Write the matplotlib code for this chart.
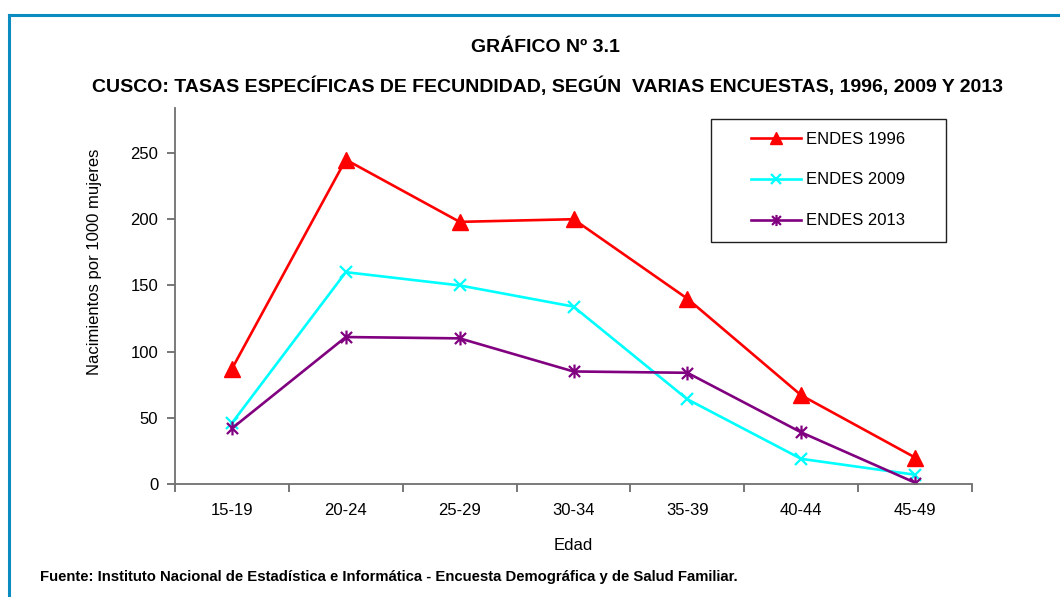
import matplotlib
matplotlib.use("Agg")
import matplotlib.pyplot as plt
from matplotlib import font_manager
from matplotlib.patches import Rectangle
from matplotlib.lines import Line2D
from matplotlib.path import Path

# ---- data ----
categories = ["15-19", "20-24", "25-29", "30-34", "35-39", "40-44", "45-49"]
endes_1996 = [87, 245, 198, 200, 140, 67, 20]
endes_2009 = [46, 160, 150, 134, 64, 19, 7]
endes_2013 = [42, 111, 110, 85, 84, 39, 1]
series_labels = ["ENDES 1996", "ENDES 2009", "ENDES 2013"]
y_ticks = [0, 50, 100, 150, 200, 250]

title1 = "GRÁFICO Nº 3.1"
title2 = "CUSCO: TASAS ESPECÍFICAS DE FECUNDIDAD, SEGÚN  VARIAS ENCUESTAS, 1996, 2009 Y 2013"
ylabel = "Nacimientos por 1000 mujeres"
xlabel = "Edad"
source = "Fuente: Instituto Nacional de Estadística e Informática - Encuesta Demográfica y de Salud Familiar."

names = {f.name for f in font_manager.fontManager.ttflist}
narrow = "Liberation Sans Narrow" if "Liberation Sans Narrow" in names else "Liberation Sans"
plt.rcParams["font.family"] = [narrow, "DejaVu Sans"]

W, H = 1060, 597
fig = plt.figure(figsize=(W / 100, H / 100), dpi=100)

def fx(px):
    return px / W

def fy(py):
    return 1 - py / H

# Excel-style asterisk marker: an x plus a vertical bar
star_marker = Path(
    [(-1, -1), (1, 1), (-1, 1), (1, -1), (0, -1.25), (0, 1.25)],
    [Path.MOVETO, Path.LINETO, Path.MOVETO, Path.LINETO, Path.MOVETO, Path.LINETO],
)

# outer blue border
fig.add_artist(Line2D([fx(9), fx(1070)], [fy(15), fy(15)], color="#0A8CC0", lw=2.2, transform=fig.transFigure))
fig.add_artist(Line2D([fx(9), fx(9)], [fy(15), fy(610)], color="#0A8CC0", lw=2.2, transform=fig.transFigure))

ax = fig.add_axes([fx(175), fy(484), fx(972) - fx(175), fy(108) - fy(484)])
x = list(range(len(categories)))

ax.plot(x, endes_1996, color="#FF0000", lw=1.9, marker="^", ms=11, label=series_labels[0])
ax.plot(x, endes_2009, color="#00FFFF", lw=1.9, marker="x", ms=9, mew=1.6, label=series_labels[1])
ax.plot(x, endes_2013, color="#800080", lw=1.9, marker=star_marker, ms=10, mew=1.6, label=series_labels[2])

ax.set_xlim(-0.5, len(categories) - 0.5)
ax.set_ylim(0, 284)
ax.set_yticks(y_ticks)
ax.set_xticks(x)
ax.set_xticklabels(categories)
ax.set_xticks([i - 0.5 for i in range(len(categories) + 1)], minor=True)
ax.tick_params(axis="x", which="major", length=0, pad=14, labelsize=12)
ax.tick_params(axis="x", which="minor", length=6, color="#606060", width=1.2)
ax.tick_params(axis="y", length=6, color="#606060", width=1.2, labelsize=12, pad=6)

for s in ["top", "right"]:
    ax.spines[s].set_visible(False)
for s in ["left", "bottom"]:
    ax.spines[s].set_color("#707070")
    ax.spines[s].set_linewidth(1.3)

fig.text(fx(545), fy(47), title1, ha="center", va="center", fontsize=14, fontweight="bold")
fig.text(fx(547), fy(86), title2, ha="center", va="center", fontsize=14, fontweight="bold")
fig.text(fx(95), fy(262), ylabel, rotation=90, ha="center", va="center", fontsize=12)
fig.text(fx(573), fy(545), xlabel, ha="center", va="center", fontsize=12)
fig.text(fx(40), fy(577), source, ha="left", va="center", fontsize=10.7, fontweight="bold")

# legend box
fig.add_artist(Rectangle((fx(711), fy(242)), fx(946) - fx(711), fy(119) - fy(242),
                         transform=fig.transFigure, fill=False, edgecolor="#202020", lw=1.0))
leg = fig.legend(loc="center", bbox_to_anchor=(fx(828), fy(180)), frameon=False,
                 fontsize=12, handlelength=3.0, handletextpad=0.3, labelspacing=1.55,
                 markerscale=0.8)

fig.savefig("out.png", dpi=100)
